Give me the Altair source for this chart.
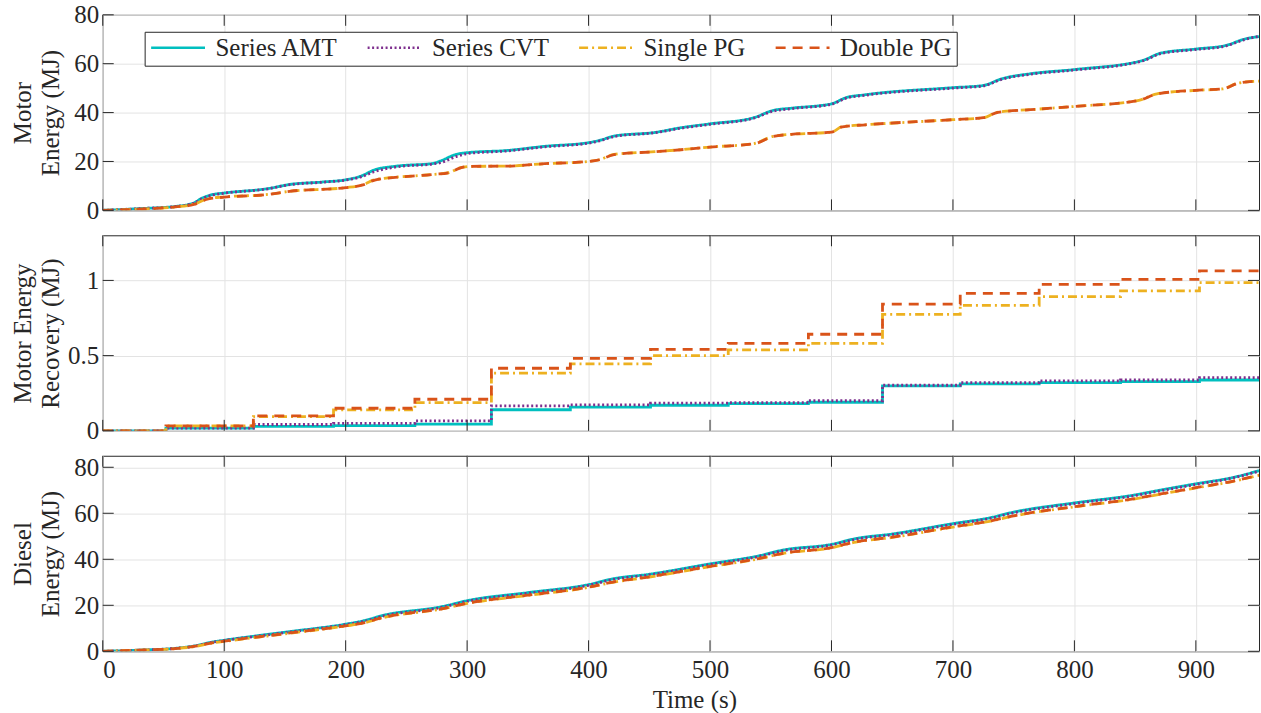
import altair as alt
import pandas as pd

SERIES = ["Series AMT", "Series CVT", "Single PG", "Double PG"]
COLORS = ["#00BFBF", "#7E2F8E", "#EDB120", "#D95319"]
DASHES = [[1, 0], [2, 2.5], [9, 4, 2, 4], [10, 7]]

X_TICKS = [0, 100, 200, 300, 400, 500, 600, 700, 800, 900]
X_MAX = 952

# ---- Panel 1: Motor energy (MJ) ----
me_amt_t = [0, 30, 60, 75, 81, 90, 100, 136, 154, 181, 200, 212, 224, 242, 272, 278, 291, 300,
            333, 364, 400, 409, 421, 455, 476, 500, 536, 552, 567, 600, 612, 628, 700, 725, 740,
            764, 800, 856, 871, 900, 925, 941, 952]
me_amt_v = [0, 0.7, 1.6, 3.0, 4.8, 6.4, 7.1, 8.9, 10.6, 11.6, 12.5, 13.9, 16.6, 18.1, 19.2, 20.2,
            22.9, 23.6, 24.5, 26.2, 27.7, 28.6, 30.4, 31.9, 33.8, 35.4, 37.9, 40.9, 41.8, 43.6,
            46.1, 47.3, 50.2, 51.1, 53.8, 55.9, 57.6, 61.3, 64.3, 66.0, 67.5, 70.2, 71.1]
me_cvt_t = me_amt_t
me_cvt_v = [0, 0.7, 1.6, 2.9, 4.6, 6.2, 7.0, 8.8, 10.5, 11.5, 12.4, 13.6, 15.9, 17.8, 19.0, 19.5,
            22.0, 23.2, 24.3, 26.0, 27.5, 28.4, 30.2, 31.8, 33.6, 35.2, 37.7, 40.6, 41.6, 43.4,
            45.9, 47.1, 50.0, 50.9, 53.6, 55.7, 57.4, 61.1, 64.1, 65.8, 67.3, 70.0, 71.2]
me_pg_t = [0, 30, 60, 75, 87, 100, 136, 154, 200, 215, 224, 272, 285, 294, 303, 333, 364, 400,
           409, 421, 455, 476, 500, 536, 552, 567, 600, 609, 628, 700, 725, 737, 764, 800, 853,
           868, 900, 922, 935, 952]
me_single_v = [0, 0.5, 1.4, 2.5, 4.8, 5.5, 6.5, 7.8, 9.3, 10.6, 12.5, 14.7, 15.4, 17.4, 18.0, 18.1,
               19.1, 20.0, 20.7, 22.9, 24.0, 24.8, 25.9, 27.3, 30.3, 31.1, 32.0, 34.3, 35.0, 37.1,
               37.9, 40.2, 41.2, 42.5, 45.0, 47.7, 49.1, 49.7, 52.1, 52.9]
me_double_v = [0, 0.5, 1.4, 2.4, 4.7, 5.4, 6.5, 7.8, 9.3, 10.5, 12.4, 14.7, 15.4, 17.3, 18.0, 18.1,
               19.1, 20.0, 20.7, 22.8, 24.0, 24.8, 25.9, 27.2, 30.2, 31.1, 32.0, 34.2, 35.0, 37.1,
               37.9, 40.1, 41.2, 42.5, 45.0, 47.6, 49.1, 49.7, 52.0, 52.9]

# ---- Panel 2: Motor energy recovery (MJ), step values ----
rec_t = [0, 52, 124, 190, 257, 320, 385, 451, 515, 581, 642, 706, 771, 838, 903, 952]
rec_amt = [0, 0.018, 0.029, 0.035, 0.044, 0.14, 0.157, 0.17, 0.181, 0.19, 0.299, 0.312, 0.321,
           0.327, 0.338, 0.338]
rec_cvt = [0, 0.018, 0.042, 0.05, 0.066, 0.166, 0.172, 0.184, 0.188, 0.2, 0.303, 0.321, 0.332,
           0.338, 0.354, 0.354]
rec_single = [0, 0.033, 0.095, 0.139, 0.188, 0.383, 0.445, 0.5, 0.538, 0.582, 0.774, 0.834, 0.892,
              0.931, 0.985, 0.985]
rec_double = [0, 0.033, 0.10, 0.15, 0.21, 0.416, 0.482, 0.542, 0.582, 0.642, 0.843, 0.914, 0.973,
              1.007, 1.064, 1.064]

# ---- Panel 3: Diesel energy (MJ) ----
de_t = [0, 30, 60, 75, 90, 100, 150, 200, 215, 230, 280, 300, 350, 400, 420, 450, 500, 540, 560,
        600, 620, 650, 700, 730, 750, 800, 850, 870, 900, 930, 952]
de_amt = [0, 0.5, 1.3, 2.3, 4.0, 4.8, 8.3, 11.8, 13.3, 15.5, 19.5, 22.0, 25.5, 29.0, 31.5, 33.5,
          38.0, 41.5, 44.0, 46.5, 49.0, 51.0, 55.5, 58.0, 60.5, 64.5, 68.0, 70.0, 72.8, 75.5, 78.5]
de_cvt = [0, 0.5, 1.3, 2.2, 3.9, 4.7, 8.1, 11.6, 13.0, 15.2, 19.2, 21.7, 25.2, 28.7, 31.2, 33.2,
          37.7, 41.2, 43.7, 46.2, 48.7, 50.7, 55.2, 57.7, 60.2, 64.2, 67.7, 69.7, 72.5, 75.3, 78.3]
de_single = [0, 0.5, 1.2, 2.0, 3.6, 4.3, 7.6, 11.0, 12.3, 14.5, 18.5, 20.8, 24.3, 27.8, 30.0, 32.3,
             36.8, 40.2, 42.5, 45.0, 47.5, 49.5, 54.0, 56.5, 58.8, 62.8, 66.3, 68.2, 71.0, 73.8, 76.5]
de_double = [0, 0.5, 1.2, 2.1, 3.7, 4.4, 7.7, 11.1, 12.4, 14.6, 18.6, 20.9, 24.4, 27.9, 30.1, 32.4,
             36.9, 40.3, 42.6, 45.1, 47.6, 49.6, 54.1, 56.6, 58.9, 62.9, 66.4, 68.3, 71.1, 73.9, 76.6]

W, H = 1159, 196
TICK = 11
FRAME = "#262626"
FONT = "Liberation Serif"


def long_df(pairs):
    rows = []
    for name, ts, vs in pairs:
        for t, v in zip(ts, vs):
            rows.append({"t": t, "v": v, "s": name})
    return pd.DataFrame(rows)


def panel(df, ytitle, ydom, yticks, bottom, legend, interp):
    xscale = alt.Scale(domain=[0, X_MAX], nice=False, zero=False)
    if bottom:
        xaxis = alt.Axis(values=X_TICKS, grid=True, labels=True, title="Time (s)", labelFlush=True,
                         labelPadding=6, titlePadding=5, titleX=593)
    else:
        xaxis = alt.Axis(values=X_TICKS, grid=True, labels=False, title=None)
    yscale = alt.Scale(domain=ydom, nice=False, zero=False)
    yaxis = alt.Axis(values=yticks, grid=True, title=ytitle, minExtent=35, maxExtent=35,
                     titlePadding=4, titleLineHeight=28, labelPadding=4, format="~r")
    X = alt.X("t:Q", scale=xscale, axis=xaxis)
    Y = alt.Y("v:Q", scale=yscale, axis=yaxis)

    if legend:
        leg = alt.Legend(title=None, orient="none", legendX=42, legendY=17, direction="horizontal",
                         columns=4, symbolType="stroke", symbolSize=2916, symbolStrokeWidth=2.5,
                         clipHeight=22, labelFont=FONT, labelFontSize=25, labelColor=FRAME,
                         labelOffset=9, columnPadding=28, padding=5, strokeColor=FRAME,
                         fillColor="white", labelLimit=400)
        color = alt.Color("s:N", scale=alt.Scale(domain=SERIES, range=COLORS), legend=leg)
        dash = alt.StrokeDash("s:N", scale=alt.Scale(domain=SERIES, range=DASHES), legend=leg)
    else:
        color = alt.Color("s:N", scale=alt.Scale(domain=SERIES, range=COLORS), legend=None)
        dash = alt.StrokeDash("s:N", scale=alt.Scale(domain=SERIES, range=DASHES), legend=None)

    lines = alt.Chart(df).mark_line(strokeWidth=2.8, interpolate=interp, clip=True).encode(
        x=X, y=Y, color=color, strokeDash=dash
    )

    ydf = pd.DataFrame({"v": yticks})
    xdf = pd.DataFrame({"t": X_TICKS})
    left_t = alt.Chart(ydf).mark_rule(color=FRAME, strokeWidth=1).encode(
        y=Y, x=alt.value(0), x2=alt.value(TICK))
    right_t = alt.Chart(ydf).mark_rule(color=FRAME, strokeWidth=1).encode(
        y=Y, x=alt.value(W - TICK), x2=alt.value(W))
    bot_t = alt.Chart(xdf).mark_rule(color=FRAME, strokeWidth=1).encode(
        x=X, y=alt.value(H - TICK), y2=alt.value(H))
    top_t = alt.Chart(xdf).mark_rule(color=FRAME, strokeWidth=1).encode(
        x=X, y=alt.value(0), y2=alt.value(TICK))

    return alt.layer(lines, left_t, right_t, bot_t, top_t).properties(width=W, height=H)


df1 = long_df([("Series AMT", me_amt_t, me_amt_v), ("Series CVT", me_cvt_t, me_cvt_v),
               ("Single PG", me_pg_t, me_single_v), ("Double PG", me_pg_t, me_double_v)])
df2 = long_df([("Series AMT", rec_t, rec_amt), ("Series CVT", rec_t, rec_cvt),
               ("Single PG", rec_t, rec_single), ("Double PG", rec_t, rec_double)])
df3 = long_df([("Series AMT", de_t, de_amt), ("Series CVT", de_t, de_cvt),
               ("Single PG", de_t, de_single), ("Double PG", de_t, de_double)])

p1 = panel(df1, ["Motor", "Energy (MJ)"], [0, 80], [0, 20, 40, 60, 80], False, True, "monotone")
p2 = panel(df2, ["Motor Energy", "Recovery (MJ)"], [0, 1.3], [0, 0.5, 1], False, False, "step-after")
p3 = panel(df3, ["Diesel", "Energy (MJ)"], [0, 85], [0, 20, 40, 60, 80], True, False, "monotone")

chart = alt.vconcat(p1, p2, p3, spacing=10).resolve_scale(
    color="independent", strokeDash="independent"
).properties(
    padding={"left": 10, "top": 1, "right": 1, "bottom": 0}
).configure(
    font=FONT
).configure_axis(
    labelFont=FONT, labelFontSize=25, labelColor=FRAME,
    titleFont=FONT, titleFontSize=25, titleColor=FRAME, titleFontWeight="normal",
    gridColor="#e3e3e3", gridWidth=1, ticks=False, domain=False
).configure_view(
    stroke=FRAME, strokeWidth=1
)

chart.save("out.html", embed_options={"renderer": "svg", "actions": False})
